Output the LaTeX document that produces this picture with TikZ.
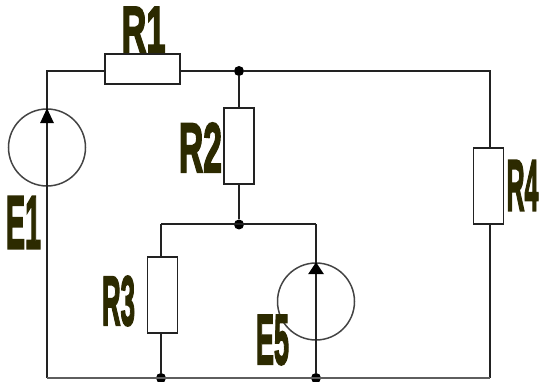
\documentclass[tikz,border=0pt]{standalone}
\usepackage{graphicx}
\usepackage{fontspec}
\setmainfont[BoldFeatures={FakeBold=3}]{Liberation Sans}
\definecolor{wire}{HTML}{222222}
\definecolor{wiregrey}{HTML}{5E5E5E}
\definecolor{labelcol}{HTML}{2C2A00}
\newcommand{\lbl}[3]{\resizebox{#1pt}{#2pt}{\textbf{#3}}}
\tikzset{
  wireline/.style={draw=wire,line width=2pt},
  greyline/.style={draw=wiregrey,line width=2.4pt},
  resv/.style={draw=wire,fill=white,line width=1.9pt,minimum width=30pt,minimum height=76pt,inner sep=0pt},
  resh/.style={draw=wire,fill=white,line width=1.9pt,minimum width=75pt,minimum height=30pt,inner sep=0pt},
  source/.style={circle,draw=wire!85,line width=1.5pt,minimum size=77pt,inner sep=0pt},
  junction/.style={circle,fill=black,inner sep=0pt,minimum size=10pt},
  txt/.style={inner sep=0pt,text=labelcol}
}
\begin{document}
\begin{tikzpicture}[x=1pt,y=-1pt]
\useasboundingbox (0,0) rectangle (539,382);
% elements
\node[source] (E1) at (47,147.5) {};
\node[source] (E5) at (316,301.5) {};
\node[resh] (R1) at (142.5,69) {};
\node[resv] (R2) at (239,146) {};
\node[resv] (R3) at (162.5,295) {};
\node[resv] (R4) at (488.5,186) {};
\node[junction] (J1) at (239,71) {};
\node[junction] (J2) at (239,224.5) {};
\node[junction] (J3) at (161,378) {};
\node[junction] (J4) at (316,378) {};
\coordinate (TL) at (47,71.5);
\coordinate (BL) at (47,378);
\coordinate (TR) at (490,71);
\coordinate (BR) at (490,378);
\coordinate (TM) at (161,224.5);
\coordinate (TN) at (316,224.5);
\coordinate (GS) at (285,71);
% wires
\draw[wireline] (BL) -- (E1.south);
\draw[wireline] (E1.south) -- (E1.north);
\draw[wireline] (E1.north) -- (TL) -- (R1.west |- TL);
\draw[wireline] (R1.east |- J1) -- (J1);
\draw[wireline] (J1) -- (GS);
\draw[wireline] (GS) -- (TR) -- (R4.north -| TR);
\draw[wireline] (J1) -- (R2.north -| J1);
\draw[wireline] (R2.south -| J2) -- (J2);
\draw[wireline] (TM) -- (TN);
\draw[wireline] (TM) -- (R3.north -| TM);
\draw[wireline] (R3.south -| J3) -- (J3);
\draw[wireline] (TN) -- (E5.north);
\draw[wireline] (E5.north) -- (J4);
\draw[wireline] (R4.south -| BR) -- (BR);
\draw[greyline] (BL) -- (BR);
% arrowheads
\fill[black] (E1.north) ++(0,0) -- ++(7,15) -- ++(-14,0) -- cycle;
\fill[black] (E5.north) ++(0,0) -- ++(8,12) -- ++(-16,0) -- cycle;
% labels
\node[txt] (LR1) at (143.5,29.5) {\lbl{44}{45}{R1}};
\node[txt] (LR2) at (200.5,147.5) {\lbl{43}{49}{R2}};
\node[txt] (LR3) at (118.5,301) {\lbl{33}{49}{R3}};
\node[txt] (LR4) at (522.5,185.5) {\lbl{32}{50}{R4}};
\node[txt] (LE1) at (23.5,222.5) {\lbl{35}{52}{E1}};
\node[txt] (LE5) at (272.5,340) {\lbl{33}{49}{E5}};
\end{tikzpicture}
\end{document}
